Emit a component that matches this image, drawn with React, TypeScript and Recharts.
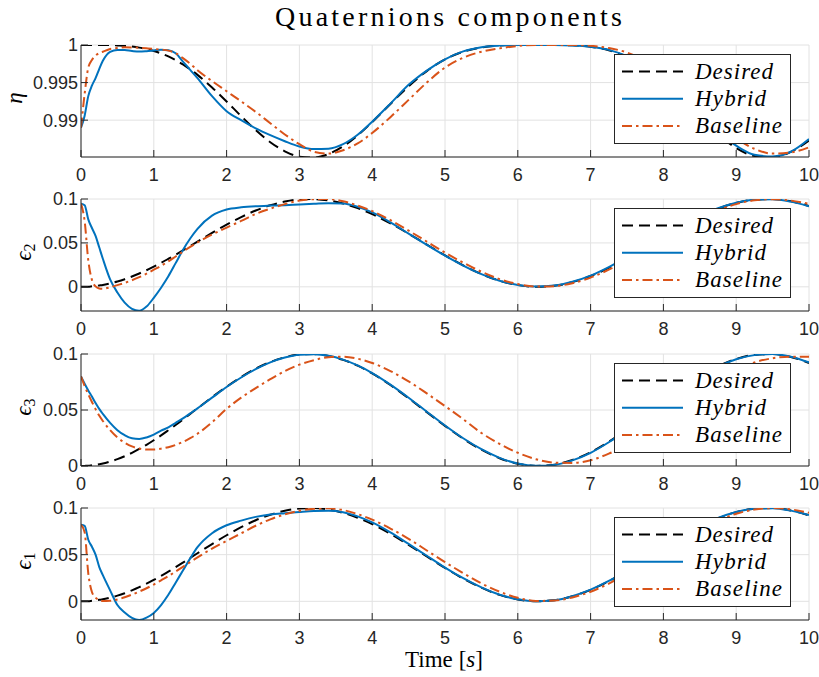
import React from 'react';
import { LineChart, Line, XAxis, YAxis, CartesianGrid } from 'recharts';

// ---- data ----
const time = [0, 0.05, 0.1, 0.15, 0.2, 0.25, 0.3, 0.4, 0.5, 0.6, 0.7, 0.8, 0.9, 1, 1.1, 1.2, 1.3, 1.4, 1.5, 1.6, 1.8, 2, 2.2, 2.4, 2.6, 2.8, 3, 3.2, 3.4, 3.6, 3.8, 4, 4.25, 4.5, 4.75, 5, 5.25, 5.5, 5.75, 6, 6.25, 6.5, 6.75, 7, 7.25, 7.5, 7.75, 8, 8.25, 8.5, 8.75, 9, 9.25, 9.5, 9.75, 10];

const etaDesired = [1, 1, 1, 1, 1, 1, 1, 0.99999, 0.99994, 0.99989, 0.99979, 0.99965, 0.99946, 0.99921, 0.99888, 0.99848, 0.99799, 0.99742, 0.99676, 0.99603, 0.99435, 0.99248, 0.99054, 0.98868, 0.98707, 0.98586, 0.98515, 0.98503, 0.9855, 0.98652, 0.98797, 0.98975, 0.99216, 0.99451, 0.99653, 0.99808, 0.99911, 0.99968, 0.99993, 1, 1, 1, 0.99996, 0.99977, 0.9993, 0.9984, 0.99699, 0.99507, 0.9928, 0.99038, 0.98812, 0.98629, 0.98524, 0.98503, 0.98577, 0.9873];
const etaHybrid = [0.989, 0.9906, 0.9932, 0.9946, 0.9956, 0.9968, 0.9979, 0.9991, 0.99935, 0.99932, 0.9992, 0.99912, 0.99918, 0.99928, 0.99938, 0.9993, 0.9989, 0.9978, 0.9967, 0.9956, 0.9932, 0.9912, 0.99, 0.9889, 0.988, 0.9872, 0.9865, 0.98615, 0.9862, 0.9868, 0.98805, 0.9898, 0.9922, 0.9947, 0.9966, 0.9981, 0.99915, 0.9997, 0.99992, 1, 1, 1, 0.99995, 0.99978, 0.99935, 0.9985, 0.9971, 0.9952, 0.993, 0.9906, 0.9883, 0.9866, 0.9854, 0.98517, 0.9858, 0.9875];
const etaBaseline = [0.989, 0.9935, 0.997, 0.998, 0.9986, 0.9989, 0.9991, 0.99948, 0.9996, 0.9997, 0.99968, 0.99963, 0.99956, 0.99948, 0.99938, 0.99925, 0.9989, 0.99825, 0.9975, 0.99665, 0.9952, 0.99385, 0.9925, 0.9911, 0.9896, 0.9881, 0.9868, 0.9858, 0.98555, 0.986, 0.9869, 0.9883, 0.9904, 0.9927, 0.995, 0.997, 0.9983, 0.9991, 0.99955, 0.99987, 1, 1, 1, 0.9999, 0.9996, 0.999, 0.9979, 0.9963, 0.9943, 0.992, 0.9897, 0.9876, 0.9862, 0.98555, 0.9857, 0.9864];

const eps2Desired = [0, 0.0001, 0.0002, 0.0006, 0.001, 0.0016, 0.0022, 0.004, 0.0061, 0.0087, 0.0118, 0.0152, 0.0189, 0.023, 0.0273, 0.0319, 0.0366, 0.0415, 0.0465, 0.0515, 0.0614, 0.0708, 0.0794, 0.0869, 0.0928, 0.0971, 0.0995, 0.0999, 0.0983, 0.0948, 0.0896, 0.0827, 0.0723, 0.0605, 0.0481, 0.0358, 0.0244, 0.0146, 0.0069, 0.002, 0.0001, 0.0012, 0.0054, 0.0123, 0.0216, 0.0327, 0.0448, 0.0573, 0.0693, 0.0801, 0.089, 0.0956, 0.0992, 0.0999, 0.0974, 0.092];
const eps2Hybrid = [0.0947, 0.093, 0.0768, 0.067, 0.058, 0.045, 0.032, 0.0085, -0.0065, -0.018, -0.025, -0.0272, -0.0225, -0.0125, -0.001, 0.012, 0.027, 0.042, 0.055, 0.066, 0.081, 0.088, 0.0905, 0.0918, 0.0925, 0.093, 0.0938, 0.0945, 0.0952, 0.0948, 0.0912, 0.0848, 0.0735, 0.0605, 0.0478, 0.0355, 0.0242, 0.0145, 0.007, 0.0022, 0.0003, 0.0015, 0.0058, 0.0128, 0.0225, 0.0338, 0.046, 0.0585, 0.0705, 0.081, 0.0895, 0.0958, 0.0992, 0.0997, 0.097, 0.0918];
const eps2Baseline = [0.0947, 0.075, 0.03, 0.008, 0.0005, -0.0018, -0.0022, -0.0005, 0.002, 0.0045, 0.0075, 0.011, 0.015, 0.0195, 0.024, 0.029, 0.0345, 0.04, 0.0455, 0.0505, 0.0595, 0.0675, 0.075, 0.083, 0.089, 0.0942, 0.0982, 0.0998, 0.0999, 0.0975, 0.0925, 0.0862, 0.076, 0.064, 0.0515, 0.039, 0.0275, 0.0172, 0.0088, 0.0032, 0.0004, 0.0008, 0.0042, 0.0105, 0.0195, 0.0302, 0.0422, 0.0545, 0.0665, 0.0775, 0.087, 0.0942, 0.0985, 0.0998, 0.0982, 0.0945];

const eps3Desired = [0, 0.0001, 0.0002, 0.0006, 0.001, 0.0016, 0.0022, 0.004, 0.0061, 0.0087, 0.0118, 0.0152, 0.0189, 0.023, 0.0273, 0.0319, 0.0366, 0.0415, 0.0465, 0.0515, 0.0614, 0.0708, 0.0794, 0.0869, 0.0928, 0.0971, 0.0995, 0.0999, 0.0983, 0.0948, 0.0896, 0.0827, 0.0723, 0.0605, 0.0481, 0.0358, 0.0244, 0.0146, 0.0069, 0.002, 0.0001, 0.0012, 0.0054, 0.0123, 0.0216, 0.0327, 0.0448, 0.0573, 0.0693, 0.0801, 0.089, 0.0956, 0.0992, 0.0999, 0.0974, 0.092];
const eps3Hybrid = [0.08, 0.0735, 0.0675, 0.062, 0.0562, 0.051, 0.0465, 0.0385, 0.032, 0.0275, 0.0247, 0.0242, 0.0255, 0.028, 0.0315, 0.0345, 0.0385, 0.0425, 0.047, 0.0515, 0.061, 0.0705, 0.079, 0.0865, 0.0925, 0.0968, 0.0993, 0.0998, 0.0984, 0.095, 0.0898, 0.083, 0.0727, 0.061, 0.0485, 0.0362, 0.0248, 0.015, 0.0073, 0.0022, 0.0002, 0.001, 0.005, 0.0118, 0.0212, 0.0322, 0.0443, 0.0568, 0.0688, 0.0797, 0.0887, 0.0953, 0.099, 0.0999, 0.0976, 0.0925];
const eps3Baseline = [0.08, 0.0715, 0.064, 0.0572, 0.0508, 0.045, 0.0402, 0.032, 0.0255, 0.0208, 0.0175, 0.0156, 0.0148, 0.0148, 0.0155, 0.0168, 0.0188, 0.0215, 0.0248, 0.0288, 0.039, 0.051, 0.061, 0.0695, 0.0775, 0.0848, 0.0905, 0.0945, 0.0972, 0.0976, 0.0958, 0.092, 0.0848, 0.0756, 0.0648, 0.0535, 0.0418, 0.0295, 0.0197, 0.0118, 0.006, 0.003, 0.0027, 0.0052, 0.011, 0.019, 0.0288, 0.04, 0.0518, 0.066, 0.0765, 0.0858, 0.0925, 0.0962, 0.0976, 0.0976];

const eps1Desired = [0, 0.0001, 0.0002, 0.0006, 0.001, 0.0016, 0.0022, 0.004, 0.0061, 0.0087, 0.0118, 0.0152, 0.0189, 0.023, 0.0273, 0.0319, 0.0366, 0.0415, 0.0465, 0.0515, 0.0614, 0.0708, 0.0794, 0.0869, 0.0928, 0.0971, 0.0995, 0.0999, 0.0983, 0.0948, 0.0896, 0.0827, 0.0723, 0.0605, 0.0481, 0.0358, 0.0244, 0.0146, 0.0069, 0.002, 0.0001, 0.0012, 0.0054, 0.0123, 0.0216, 0.0327, 0.0448, 0.0573, 0.0693, 0.0801, 0.089, 0.0956, 0.0992, 0.0999, 0.0974, 0.092];
const eps1Hybrid = [0.082, 0.0808, 0.066, 0.0585, 0.05, 0.037, 0.028, 0.0118, -0.004, -0.012, -0.0178, -0.02, -0.0175, -0.0125, -0.004, 0.007, 0.02, 0.033, 0.046, 0.058, 0.073, 0.0815, 0.0865, 0.0905, 0.093, 0.0945, 0.0958, 0.0968, 0.097, 0.0955, 0.091, 0.0845, 0.0738, 0.0615, 0.0488, 0.0362, 0.0248, 0.015, 0.0072, 0.0022, 0.0002, 0.0012, 0.0055, 0.0125, 0.0218, 0.033, 0.0452, 0.0577, 0.0697, 0.0805, 0.0893, 0.0957, 0.0992, 0.0998, 0.0972, 0.0925];
const eps1Baseline = [0.082, 0.074, 0.03, 0.01, 0.004, 0.0015, 0.0003, 0.0005, 0.002, 0.0043, 0.0072, 0.0105, 0.014, 0.018, 0.0225, 0.027, 0.032, 0.037, 0.042, 0.047, 0.0565, 0.0648, 0.0728, 0.081, 0.0878, 0.0932, 0.097, 0.0992, 0.0997, 0.0978, 0.0935, 0.0875, 0.078, 0.067, 0.0545, 0.042, 0.0302, 0.0192, 0.0103, 0.0038, 0.0004, 0.0008, 0.0042, 0.0103, 0.019, 0.0297, 0.0417, 0.054, 0.066, 0.077, 0.0865, 0.0938, 0.0983, 0.0999, 0.0985, 0.0948];

const xTicks = [0, 1, 2, 3, 4, 5, 6, 7, 8, 9, 10];
const etaTicks = [0.99, 0.995, 1];
const epsTicks = [0, 0.05, 0.1];
const seriesNames = ['Desired', 'Hybrid', 'Baseline'];
const titleText = 'Quaternions components';

// ---- styles ----
const SERIES_STYLE: Record<string, { color: string; dash?: string; legendLen: number }> = {
  Desired: { color: '#000000', dash: '11 6', legendLen: 78 },
  Hybrid: { color: '#0072BD', dash: undefined, legendLen: 71 },
  Baseline: { color: '#D95319', dash: '10 4 2.5 4', legendLen: 87 },
};

const AXIS_COLOR = '#262626';
const GRID_COLOR = '#e2e2e2';
const TICK_FONT = 'Liberation Sans, Arial, Helvetica, sans-serif';
const SERIF = 'Liberation Serif, DejaVu Serif, Times New Roman, serif';

const PLOT_H = 112;
const CHART_W = 819;
const PLOT_LEFT = 81;
const PLOT_RIGHT_MARGIN = 10;

type Panel = {
  top: number;
  domain: [number, number];
  ticks: number[];
  desired: number[];
  hybrid: number[];
  baseline: number[];
  label: string;
  sub?: string;
  labelX: number;
};

const panels: Panel[] = [
  { top: 45, domain: [0.9851, 1], ticks: etaTicks, desired: etaDesired, hybrid: etaHybrid, baseline: etaBaseline, label: 'η', labelX: 22 },
  { top: 199, domain: [-0.0275, 0.1], ticks: epsTicks, desired: eps2Desired, hybrid: eps2Hybrid, baseline: eps2Baseline, label: 'ϵ', sub: '2', labelX: 31 },
  { top: 354, domain: [0, 0.1], ticks: epsTicks, desired: eps3Desired, hybrid: eps3Hybrid, baseline: eps3Baseline, label: 'ϵ', sub: '3', labelX: 31 },
  { top: 508, domain: [-0.02, 0.1], ticks: epsTicks, desired: eps1Desired, hybrid: eps1Hybrid, baseline: eps1Baseline, label: 'ϵ', sub: '1', labelX: 31 },
];

const fmt = (v: number) => String(v);

function PanelChart({ p }: { p: Panel }) {
  const data = time.map((t, i) => ({
    t,
    Desired: p.desired[i],
    Hybrid: p.hybrid[i],
    Baseline: p.baseline[i],
  }));
  return (
    <div style={{ position: 'absolute', left: 0, top: p.top - 10 }}>
      <LineChart
        width={CHART_W}
        height={10 + PLOT_H + 30}
        data={data}
        margin={{ top: 10, right: PLOT_RIGHT_MARGIN, bottom: 0, left: 0 }}
      >
        <CartesianGrid stroke={GRID_COLOR} strokeWidth={1} />
        <XAxis
          dataKey="t"
          type="number"
          domain={[0, 10]}
          ticks={xTicks}
          interval={0}
          height={30}
          allowDataOverflow
          tickSize={-7}
          tickMargin={18}
          axisLine={{ stroke: AXIS_COLOR, strokeWidth: 1 }}
          tickLine={{ stroke: AXIS_COLOR, strokeWidth: 1 }}
          tick={{ fill: AXIS_COLOR, fontSize: 18, fontFamily: TICK_FONT }}
        />
        <YAxis
          type="number"
          domain={p.domain}
          ticks={p.ticks}
          interval={0}
          width={PLOT_LEFT}
          allowDataOverflow
          tickFormatter={fmt}
          tickSize={-7}
          tickMargin={10}
          axisLine={{ stroke: AXIS_COLOR, strokeWidth: 1 }}
          tickLine={{ stroke: AXIS_COLOR, strokeWidth: 1 }}
          tick={{ fill: AXIS_COLOR, fontSize: 18, fontFamily: TICK_FONT }}
        />
        {seriesNames.map((name) => (
          <Line
            key={name}
            type="monotone"
            dataKey={name}
            stroke={SERIES_STYLE[name].color}
            strokeWidth={2}
            strokeDasharray={SERIES_STYLE[name].dash}
            dot={false}
            activeDot={false}
            isAnimationActive={false}
          />
        ))}
      </LineChart>
    </div>
  );
}

const serifStyle: React.CSSProperties = { fontFamily: SERIF };

function LegendBox({ top }: { top: number }) {
  const x0 = 614;
  const y0 = top + 9;
  return (
    <g>
      <rect x={x0 + 0.5} y={y0 + 0.5} width={176} height={89} fill="#ffffff" stroke={AXIS_COLOR} strokeWidth={1} />
      {seriesNames.map((name, i) => {
        const st = SERIES_STYLE[name];
        const ly = y0 + 17.5 + 27.3 * i;
        return (
          <g key={name}>
            <line x1={x0 + 8} x2={x0 + 69} y1={ly} y2={ly} stroke={st.color} strokeWidth={2} strokeDasharray={st.dash} />
            <text
              x={x0 + 81}
              y={ly + 7}
              style={{ ...serifStyle, fontStyle: 'italic', fontSize: 23 }}
              fill="#000"
              textLength={st.legendLen}
              lengthAdjust="spacing"
            >
              {name}
            </text>
          </g>
        );
      })}
    </g>
  );
}

export default function App() {
  return (
    <div style={{ position: 'absolute', left: 0, top: 0, width: 819, height: 677, background: '#ffffff', overflow: 'hidden' }}>
      {panels.map((p, i) => (
        <PanelChart key={i} p={p} />
      ))}
      <svg width={819} height={677} style={{ position: 'absolute', left: 0, top: 0, pointerEvents: 'none' }}>
        <text
          x={448.5}
          y={26}
          textAnchor="middle"
          style={{ ...serifStyle, fontSize: 28 }}
          fill="#000"
          textLength={347}
          lengthAdjust="spacing"
        >
          {titleText}
        </text>
        {panels.map((p, i) => (
          <text
            key={'yl' + i}
            transform={`translate(${p.labelX},${p.top + PLOT_H / 2 - 3}) rotate(-90)`}
            textAnchor="middle"
            style={{ ...serifStyle, fontStyle: 'italic', fontSize: 23 }}
            fill="#000"
          >
            {p.label}
            {p.sub ? (
              <tspan style={{ fontStyle: 'normal', fontSize: 16 }} dy={4}>
                {p.sub}
              </tspan>
            ) : null}
          </text>
        ))}
        <text x={444} y={667} textAnchor="middle" style={{ ...serifStyle, fontSize: 23 }} fill="#000" textLength={78} lengthAdjust="spacing">
          Time [<tspan style={{ fontStyle: 'italic' }}>s</tspan>]
        </text>
        {panels.map((p, i) => (
          <LegendBox key={'lg' + i} top={p.top} />
        ))}
      </svg>
    </div>
  );
}
